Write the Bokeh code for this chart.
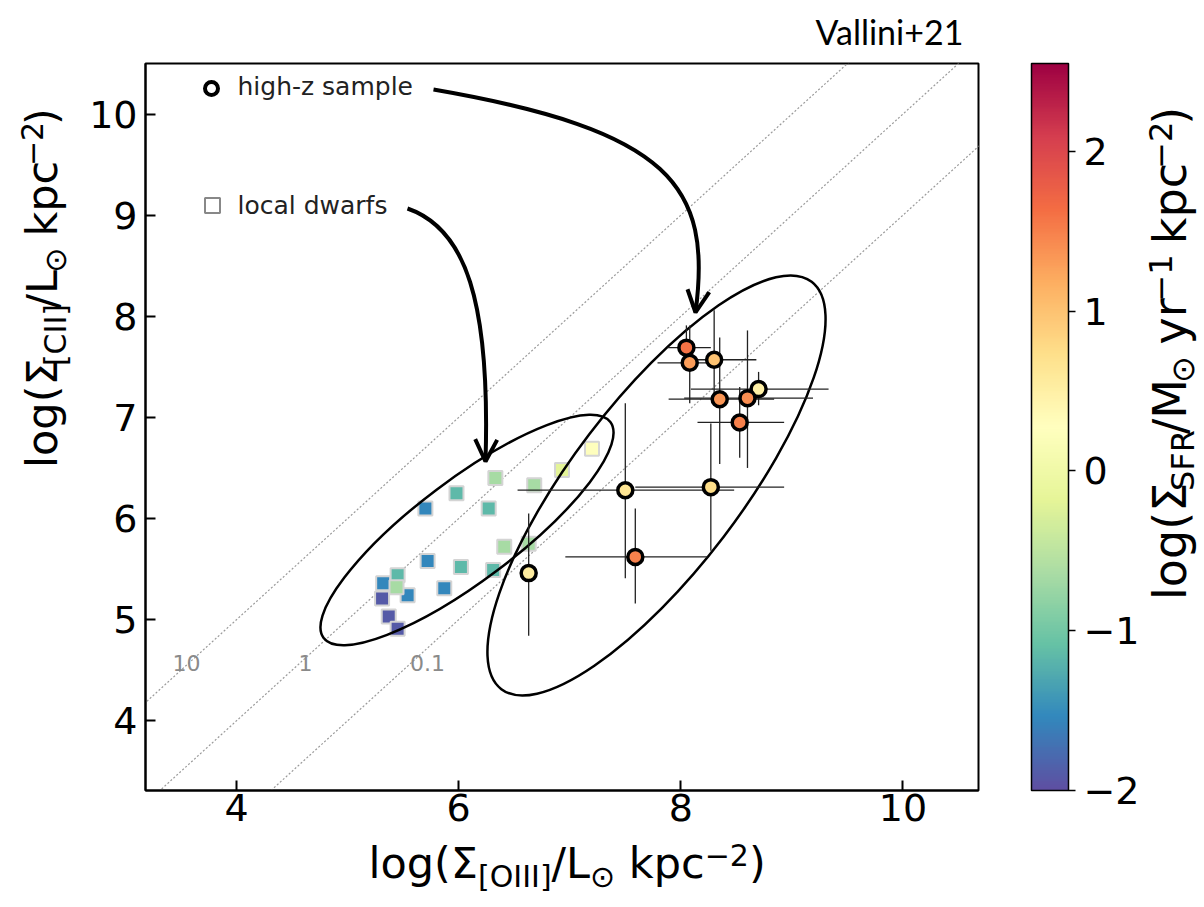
import math
import numpy as np
from bokeh.plotting import figure
from bokeh.layouts import row, column
from bokeh.models import (LinearColorMapper, ColorBar, FixedTicker, Arrow,
                          OpenHead, CustomJSTickFormatter, Range1d, ColumnDataSource)
from bokeh.core.properties import value
from bokeh.embed import file_html
from bokeh.resources import INLINE

# ---------------- data ----------------
# local dwarfs: log Sigma_[OIII], log Sigma_[CII], log Sigma_SFR
dw_x = [5.32, 5.45, 5.54, 5.31, 5.44, 5.70, 5.98, 6.27, 6.33, 6.68, 6.93, 7.20,
        5.72, 6.02, 6.31, 6.41, 6.63, 5.87, 5.37, 5.45]
dw_y = [5.36, 5.44, 5.24, 5.21, 5.32, 6.10, 6.25, 6.10, 6.40, 6.33, 6.48, 6.69,
        5.58, 5.52, 5.49, 5.72, 5.75, 5.31, 5.03, 4.91]
dw_sfr = [-1.55, -1.15, -1.55, -1.9, -0.65, -1.55, -1.15, -1.15, -0.65, -0.65, -0.2, 0.25,
          -1.55, -1.15, -1.15, -0.65, -0.65, -1.55, -1.9, -1.9]

# high-z sample
hz_x = [8.05, 8.08, 8.30, 8.70, 8.35, 8.60, 8.53, 7.50, 8.27, 7.59, 6.63]
hz_y = [7.69, 7.54, 7.57, 7.28, 7.18, 7.19, 6.95, 6.28, 6.31, 5.62, 5.46]
hz_sfr = [1.6, 1.3, 1.0, 0.5, 1.35, 1.4, 1.5, 0.65, 0.75, 1.5, 0.55]
hz_xlo = [7.88, 7.79, 8.12, 8.09, 7.89, 8.03, 8.15, 6.53, 7.59, 6.96, 6.63]
hz_xhi = [8.27, 8.30, 8.68, 9.33, 8.84, 9.19, 8.93, 8.48, 8.93, 8.24, 6.63]
hz_ylo = [7.50, 7.14, 7.19, 7.12, 6.54, 6.50, 6.60, 5.41, 5.68, 5.16, 4.84]
hz_yhi = [7.91, 7.91, 8.06, 7.45, 7.79, 7.86, 7.30, 7.14, 6.94, 6.10, 6.05]

ratio_vals = [10, 1, 0.1]
ratio_labels = ["10", "1", "0.1"]
x_ticks = [4, 6, 8, 10]
y_ticks = [4, 5, 6, 7, 8, 9, 10]
cb_ticks = [-2, -1, 0, 1, 2]

# ---------------- layout constants ----------------
W, H = 1204, 907
TOP_H = 55            # strip holding the credit text
LEFT_W = 75           # strip holding the y label
RIGHT_W = 64          # strip holding the colour-bar label
FL, FT, FW, FH = 145, 63, 833, 727   # frame in page pixels
FB = FT + FH
MAIN_BOT = 837        # page y where the main figure ends
MAIN_W = W - LEFT_W - RIGHT_W
MAIN_H = MAIN_BOT - TOP_H
X0, X1 = 3.18, 10.68
Y0, Y1 = 3.31, 10.5
SFR_LO, SFR_HI = -2.0, 2.55
BASE_K = 0.35         # anchor-to-baseline offset of rendered text, in em


def dx(px):
    return X0 + (px - FL) / FW * (X1 - X0)


def dy(py):
    return Y1 - (py - FT) / FH * (Y1 - Y0)


# Spectral_r palette (256 interpolated)
stops = ["#5e4fa2", "#3288bd", "#66c2a5", "#abdda4", "#e6f598", "#ffffbf",
         "#fee08b", "#fdae61", "#f46d43", "#d53e4f", "#9e0142"]
rgb = np.array([[int(c[i:i + 2], 16) for i in (1, 3, 5)] for c in stops], float)
pal = []
for i in range(256):
    t = i / 255 * (len(stops) - 1)
    k = min(int(t), len(stops) - 2)
    f = t - k
    c = rgb[k] * (1 - f) + rgb[k + 1] * f
    pal.append("#%02x%02x%02x" % tuple(int(round(v)) for v in c))

mapper = LinearColorMapper(palette=pal, low=SFR_LO, high=SFR_HI)

p = figure(width=MAIN_W, height=MAIN_H, x_range=Range1d(X0, X1), y_range=Range1d(Y0, Y1),
           output_backend="svg", toolbar_location=None,
           min_border_left=FL - LEFT_W, min_border_right=LEFT_W + MAIN_W - FL - FW,
           min_border_top=FT - TOP_H, min_border_bottom=MAIN_BOT - FB)
p.grid.visible = False
p.outline_line_color = "black"
p.outline_line_width = 2
p.background_fill_color = "white"
p.border_fill_color = "white"

for ax, ticks in ((p.xaxis, x_ticks), (p.yaxis, y_ticks)):
    ax.ticker = FixedTicker(ticks=ticks)
    ax.major_label_text_font = "DejaVu Sans"
    ax.major_label_text_font_size = "38px"
    ax.major_label_text_color = "black"
    ax.major_tick_in = 10
    ax.major_tick_out = 0
    ax.minor_tick_in = 0
    ax.minor_tick_out = 0
    ax.axis_line_width = 2
    ax.major_tick_line_width = 2
p.xaxis.major_label_standoff = 3
p.yaxis.major_label_standoff = 8

# diagonal ratio lines
for r in ratio_vals:
    c = math.log10(r)
    p.line([X0 - 1, X1 + 1], [X0 - 1 + c, X1 + 1 + c], line_color="#9a9a9a",
           line_width=1.2, line_dash="2 2")
lab_dx = [-0.02, 0.05, 0.15]
lab_y = 4.57
p.text(x=[lab_y - math.log10(r) + d for r, d in zip(ratio_vals, lab_dx)],
       y=[lab_y] * 3, text=ratio_labels, text_align="center", text_baseline="middle",
       text_font=value("DejaVu Sans"), text_font_size="22px", text_color="#8a8a8a")

# local dwarfs
src_dw = ColumnDataSource(dict(x=dw_x, y=dw_y, s=dw_sfr))
p.scatter("x", "y", source=src_dw, marker="square", size=14,
          fill_color={"field": "s", "transform": mapper},
          line_color="#d4d4d4", line_width=2)

# ellipses (annotation outlines, screen-sized)
p.ellipse(x=[dx(466.5), dx(656)], y=[dy(529.5), dy(485)], width=[359, 512],
          height=[101, 169], angle=[math.radians(37.0), math.radians(52.7)],
          width_units="screen", height_units="screen",
          fill_color=None, line_color="black", line_width=2.5)

# error bars
p.segment(x0=hz_xlo, y0=hz_y, x1=hz_xhi, y1=hz_y, line_color="#222222", line_width=1.3)
p.segment(x0=hz_x, y0=hz_ylo, x1=hz_x, y1=hz_yhi, line_color="#222222", line_width=1.3)

src_hz = ColumnDataSource(dict(x=hz_x, y=hz_y, s=hz_sfr))
p.scatter("x", "y", source=src_hz, marker="circle", size=15,
          fill_color={"field": "s", "transform": mapper},
          line_color="black", line_width=3.5)

# curved arrows
arrows = [((433, 89), (670, 130), (712, 185), (695, 312)),
          ((407, 208), (465, 228), (490, 300), (485, 461))]
for P0, P1, P2, P3 in arrows:
    p.bezier(x0=[dx(P0[0])], y0=[dy(P0[1])], x1=[dx(P3[0])], y1=[dy(P3[1])],
             cx0=[dx(P1[0])], cy0=[dy(P1[1])], cx1=[dx(P2[0])], cy1=[dy(P2[1])],
             line_color="black", line_width=4)
    p.add_layout(Arrow(end=OpenHead(size=22, line_width=4, line_color="black"),
                       x_start=dx(P2[0]), y_start=dy(P2[1]),
                       x_end=dx(P3[0]), y_end=dy(P3[1]),
                       line_alpha=0))

# legend-like annotations
p.scatter([dx(211)], [dy(88)], marker="circle", size=13, fill_color="white",
          line_color="black", line_width=4)
p.scatter([dx(212)], [dy(205)], marker="square", size=15, fill_color="white",
          line_color="#888888", line_width=2)
p.text(x=[dx(237), dx(237)], y=[dy(86), dy(205)], text=["high-z sample", "local dwarfs"],
       text_baseline="middle", text_align="left", text_font=value("DejaVu Sans"),
       text_font_size="25px", text_color="#222222")

# colour bar
cb = ColorBar(color_mapper=mapper, ticker=FixedTicker(ticks=cb_ticks),
              formatter=CustomJSTickFormatter(
                  code="return tick < 0 ? '\u2212' + Math.abs(tick) : String(tick);"),
              width=37, height=FH, location=(FW + 53, 0), padding=0, margin=0,
              major_label_text_font="DejaVu Sans", major_label_text_font_size="38px",
              major_label_text_color="black",
              major_tick_line_color="black", major_tick_out=7, major_tick_in=0,
              major_tick_line_width=1.5, minor_tick_line_color=None,
              bar_line_color="black", bar_line_width=1.5, label_standoff=8,
              background_fill_color=None, border_line_color=None)
p.add_layout(cb, "center")


# ---------------- text strips around the main figure ----------------
def strip(w, h):
    s = figure(width=w, height=h, x_range=Range1d(0, w), y_range=Range1d(0, h),
               output_backend="svg", toolbar_location=None, min_border=0)
    s.axis.visible = False
    s.grid.visible = False
    s.outline_line_color = None
    s.background_fill_color = "white"
    s.border_fill_color = "white"
    return s


top = strip(W, TOP_H)
left = strip(LEFT_W, MAIN_H)
right = strip(RIGHT_W, MAIN_H)
bottom = strip(W, H - MAIN_BOT)

MET = {'l': 0.278, 'o': 0.612, 'g': 0.635, '(': 0.390, ')': 0.390, 'Σ': 0.632,
       '[': 0.390, ']': 0.390, 'O': 0.787, 'I': 0.295, 'C': 0.698, '/': 0.337,
       'L': 0.557, '⊙': 0.838, ' ': 0.318, 'k': 0.579, 'p': 0.635, 'c': 0.550,
       '−': 0.838, '1': 0.636, '2': 0.636, 'y': 0.592, 'r': 0.411, 'M': 0.863,
       'S': 0.635, 'F': 0.575, 'R': 0.695}


def add_rich(fig, ox, oy, parts, cx, cy, size, rotated=False, font="DejaVu Sans",
             sup_k=0.34, sub_k=0.2):
    """cx, cy: page pixels of start of baseline; (ox, oy) page pixels of the
    strip's left / bottom edge."""
    pos = 0.0
    for t, kind in parts:
        fs = size if kind == "n" else round(size * 0.7)
        lead = len(t) - len(t.lstrip(" "))
        pos += lead * MET[' '] * fs
        t = t.strip(" ")
        off = 0 if kind == "n" else (size * sub_k if kind == "sub" else -size * sup_k)
        off -= BASE_K * fs
        if not rotated:
            X, Y, ang = cx + pos, cy + off, 0
        else:
            X, Y, ang = cx + off, cy - pos, math.pi / 2
        fig.text(x=[X - ox], y=[oy - Y], text=[t], angle=ang, text_align="left",
                 text_baseline="alphabetic", text_font=value(font),
                 text_font_size=f"{fs}px", text_color="black")
        pos += sum(MET.get(ch, 0.6) for ch in t) * fs


add_rich(bottom, 0, H,
         [("log(Σ", "n"), ("[OIII]", "sub"), ("/L", "n"), ("⊙", "sub"),
          (" kpc", "n"), ("−2", "sup"), (")", "n")], 368, 878, 43, sup_k=0.3)
add_rich(left, 0, MAIN_BOT,
         [("log(Σ", "n"), ("[CII]", "sub"), ("/L", "n"), ("⊙", "sub"),
          (" kpc", "n"), ("−2", "sup"), (")", "n")], 57, 490, 43, rotated=True)
add_rich(right, W - RIGHT_W, MAIN_BOT,
         [("log(Σ", "n"), ("SFR", "sub"), ("/M", "n"), ("⊙", "sub"), (" yr", "n"),
          ("−1", "sup"), (" kpc", "n"), ("−2", "sup"), (")", "n")],
         1186, 632, 46, rotated=True, sup_k=0.32, sub_k=0.16)
add_rich(top, 0, TOP_H, [("Vallini+21", "n")], 815, 43, 34, font="Lato")

open("out.html", "w").write(file_html(column(top, row(left, p, right), bottom), INLINE))
